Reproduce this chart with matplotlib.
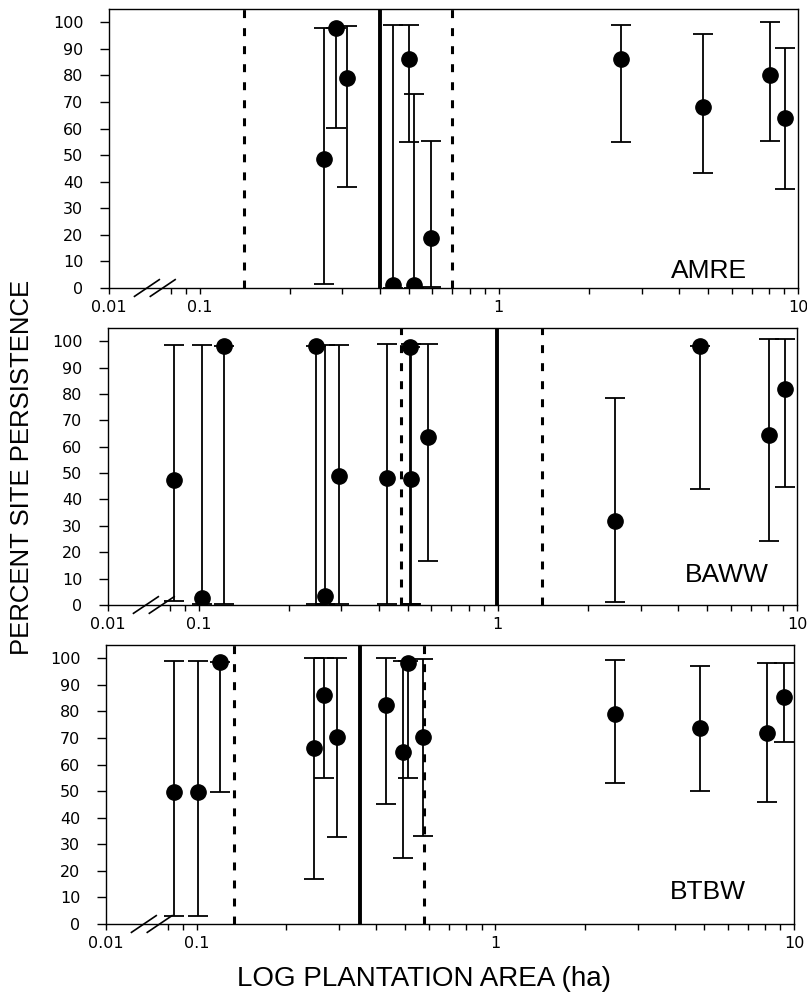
import numpy as np
import matplotlib.pyplot as plt
from matplotlib.ticker import FixedLocator, FixedFormatter, NullFormatter

plt.rcParams['font.family'] = ['Liberation Sans', 'DejaVu Sans']

# plantation area (ha), percent persistence, lower / upper limits of the bars
amre_area = [0.261, 0.286, 0.311, 0.443, 0.501, 0.521, 0.592, 2.57, 4.82, 8.09, 9.08]
amre_pers = [48.5, 97.9, 79.0, 1.0, 86.2, 1.0, 19.0, 86.2, 68.3, 80.2, 64.0]
amre_low = [1.5, 60.4, 38.0, 0.0, 54.8, 0.0, 0.5, 54.8, 43.2, 55.4, 37.3]
amre_high = [97.9, 97.9, 98.5, 99.1, 99.0, 73.0, 55.4, 99.0, 95.6, 100.0, 90.3]
amre_thr = 0.40
amre_ci = [0.141, 0.70]

baww_area = [0.083, 0.103, 0.122, 0.247, 0.265, 0.295, 0.427, 0.509, 0.512, 0.584,
             2.47, 4.75, 8.07, 9.12]
baww_pers = [47.5, 2.8, 98.0, 98.0, 3.4, 48.8, 48.0, 97.7, 47.8, 63.8, 31.9, 98.0, 64.4, 82.0]
baww_low = [1.5, 0.5, 0.5, 0.5, 0.5, 0.5, 0.5, 0.5, 0.5, 16.7, 1.0, 44.0, 24.4, 44.6]
baww_high = [98.5, 98.5, 98.0, 98.0, 98.5, 98.5, 99.0, 97.7, 99.0, 99.1, 78.6, 98.0, 101.0, 101.0]
baww_thr = 0.99
baww_ci = [0.475, 1.41]

btbw_area = [0.084, 0.101, 0.120, 0.247, 0.267, 0.296, 0.430, 0.492, 0.510, 0.571,
             2.51, 4.83, 8.15, 9.27]
btbw_pers = [49.5, 49.5, 98.7, 66.2, 86.2, 70.5, 82.4, 64.7, 98.1, 70.2, 79.0, 73.9, 72.0, 85.6]
btbw_low = [3.1, 3.1, 49.8, 16.9, 55.1, 32.7, 45.1, 24.8, 55.1, 33.2, 53.0, 50.1, 45.9, 68.6]
btbw_high = [99.1, 99.1, 98.7, 100.2, 100.2, 100.2, 100.2, 99.0, 99.0, 99.6, 99.4, 97.1, 98.3, 98.3]
btbw_thr = 0.353
btbw_ci = [0.133, 0.578]

species = ['AMRE', 'BAWW', 'BTBW']
xticks = [0.01, 0.1, 1, 10]
xticklabels = ['0.01', '0.1', '1', '10']
xminor = [0.08, 0.09] + [k / 10 for k in range(2, 10)] + list(range(2, 10))
yticks = list(range(0, 101, 10))

# log axis with a broken (compressed) stretch between 0.01 and 0.07
BRK = 0.07
LB = np.log10(BRK)
L0 = -1.303


def fwd(x):
    x = np.asarray(x, float)
    lg = np.log10(np.maximum(x, 1e-12))
    lin = LB - (BRK - x) / (BRK - 0.01) * (LB - L0)
    return np.where(x >= BRK, lg, lin)


def inv(y):
    y = np.asarray(y, float)
    ex = 10 ** np.minimum(y, 10)
    lin = BRK - (LB - y) / (LB - L0) * (BRK - 0.01)
    return np.where(y >= LB, ex, lin)


fig = plt.figure(figsize=(8.07, 9.98), dpi=100)
rects = [[109 / 807, 1 - 288 / 998, 689 / 807, 279 / 998],
         [108 / 807, 1 - 605 / 998, 689 / 807, 277 / 998],
         [106 / 807, 1 - 924 / 998, 688 / 807, 279 / 998]]
panels = [(amre_area, amre_pers, amre_low, amre_high, amre_thr, amre_ci),
          (baww_area, baww_pers, baww_low, baww_high, baww_thr, baww_ci),
          (btbw_area, btbw_pers, btbw_low, btbw_high, btbw_thr, btbw_ci)]
name_pos = [(0.871, 0.06), (0.898, 0.11), (0.875, 0.116)]

for rect, (area, pers, low, high, thr, ci), name, npos in zip(rects, panels, species, name_pos):
    ax = fig.add_axes(rect)
    ax.set_xscale('function', functions=(fwd, inv))
    ax.set_xlim(0.01, 10)
    ax.set_ylim(0, 105)

    y = np.array(pers)
    err = [np.clip(y - np.array(low), 0, None), np.clip(np.array(high) - y, 0, None)]
    ax.errorbar(area, pers, yerr=err, fmt='o', color='black', ms=11,
                elinewidth=1.3, capsize=7, capthick=1.3, zorder=3)

    ax.axvline(thr, color='black', lw=2.8, zorder=2)
    for c in ci:
        ax.axvline(c, color='black', lw=2.2, dashes=(2.6, 3.3), zorder=2)

    ax.text(npos[0], npos[1], name, transform=ax.transAxes, ha='center', va='center',
            fontsize=19)

    # axis break marks
    for xc in (0.055, 0.078):
        ax.plot([xc - 0.018, xc + 0.018], [-0.03, 0.03], color='black', lw=1.2,
                transform=ax.transAxes, clip_on=False, zorder=5)

    ax.xaxis.set_major_locator(FixedLocator(xticks))
    ax.xaxis.set_major_formatter(FixedFormatter(xticklabels))
    ax.xaxis.set_minor_locator(FixedLocator(xminor))
    ax.xaxis.set_minor_formatter(NullFormatter())
    ax.set_yticks(yticks)

    ax.tick_params(axis='y', direction='out', length=6.5, width=1, pad=12)
    ax.tick_params(axis='x', which='both', direction='out', length=4.5, width=1, pad=4)
    for lab in ax.get_xticklabels() + ax.get_yticklabels():
        lab.set_family('DejaVu Sans')
        lab.set_fontsize(11.5)
    for s in ax.spines.values():
        s.set_linewidth(1.0)

fig.text(22.5 / 807, 1 - 467.5 / 998, 'PERCENT SITE PERSISTENCE', rotation=90,
         ha='center', va='center', fontsize=18.5)
fig.text(424 / 807, 1 - 979 / 998, 'LOG PLANTATION AREA (ha)', ha='center', va='center',
         fontsize=20)

fig.savefig('out.png', dpi=100)
